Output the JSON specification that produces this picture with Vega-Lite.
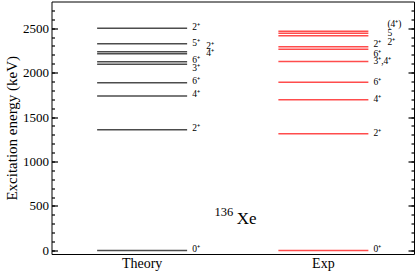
{
  "$schema": "https://vega.github.io/schema/vega-lite/v6.json",
  "width": 362.5,
  "height": 252.5,
  "autosize": {"type": "none"},
  "padding": {"left": 51.5, "top": 1.5, "right": 1, "bottom": 18},
  "background": "white",
  "config": {
    "view": {"stroke": "#000", "strokeWidth": 1},
    "font": "Liberation Serif",
    "axis": {"domain": false, "grid": false, "labelFont": "Liberation Serif", "titleFont": "Liberation Serif", "labelColor": "#000", "titleColor": "#000"},
    "axisY": {"ticks": true, "tickColor": "#000", "tickWidth": 1.2, "tickOpacity": 1},
    "axisX": {"ticks": false, "labelFontSize": 14, "labelPadding": 2, "labelAngle": 0, "title": null},
    "text": {"font": "Liberation Serif", "color": "#000"}
  },
  "datasets": {
    "levels": [
      {"group": "Theory", "E": 0},
      {"group": "Theory", "E": 1357},
      {"group": "Theory", "E": 1738},
      {"group": "Theory", "E": 1887},
      {"group": "Theory", "E": 2093},
      {"group": "Theory", "E": 2122},
      {"group": "Theory", "E": 2212},
      {"group": "Theory", "E": 2234},
      {"group": "Theory", "E": 2324},
      {"group": "Theory", "E": 2500},
      {"group": "Exp", "E": 0},
      {"group": "Exp", "E": 1313},
      {"group": "Exp", "E": 1694},
      {"group": "Exp", "E": 1892},
      {"group": "Exp", "E": 2126},
      {"group": "Exp", "E": 2262},
      {"group": "Exp", "E": 2290},
      {"group": "Exp", "E": 2415},
      {"group": "Exp", "E": 2444},
      {"group": "Exp", "E": 2465}
    ],
    "labels": [
      {"group": "Theory", "col": 1, "E": 20, "label": "0⁺"},
      {"group": "Theory", "col": 1, "E": 1380, "label": "2⁺"},
      {"group": "Theory", "col": 1, "E": 1760, "label": "4⁺"},
      {"group": "Theory", "col": 1, "E": 1905, "label": "6⁺"},
      {"group": "Theory", "col": 1, "E": 2050, "label": "3⁺"},
      {"group": "Theory", "col": 1, "E": 2140, "label": "6⁺"},
      {"group": "Theory", "col": 1, "E": 2330, "label": "5⁺"},
      {"group": "Theory", "col": 1, "E": 2510, "label": "2⁺"},
      {"group": "Theory", "col": 2, "E": 2220, "label": "4⁺"},
      {"group": "Theory", "col": 2, "E": 2300, "label": "2⁺"},
      {"group": "Exp", "col": 1, "E": 20, "label": "0⁺"},
      {"group": "Exp", "col": 1, "E": 1323, "label": "2⁺"},
      {"group": "Exp", "col": 1, "E": 1704, "label": "4⁺"},
      {"group": "Exp", "col": 1, "E": 1895, "label": "6⁺"},
      {"group": "Exp", "col": 1, "E": 2130, "label": "3⁺,4⁺"},
      {"group": "Exp", "col": 1, "E": 2210, "label": "6⁺"},
      {"group": "Exp", "col": 1, "E": 2320, "label": "2⁺"},
      {"group": "Exp", "col": 2, "E": 2345, "label": "2⁺"},
      {"group": "Exp", "col": 2, "E": 2445, "label": "5"},
      {"group": "Exp", "col": 2, "E": 2545, "label": "(4⁺)"}
    ]
  },
  "layer": [
    {
      "data": {"name": "levels"},
      "mark": {"type": "tick", "thickness": 1.5, "size": 90},
      "encoding": {
        "x": {"field": "group", "type": "nominal", "sort": ["Theory", "Exp"], "scale": {"type": "band", "domain": ["Theory", "Exp"], "paddingInner": 0, "paddingOuter": 0}, "axis": {"title": null}},
        "y": {"field": "E", "type": "quantitative", "scale": {"domain": [-40, 2800], "nice": false, "zero": false},
          "axis": {"orient": "left", "values": [0, 500, 1000, 1500, 2000, 2500], "format": "d", "offset": -6, "tickSize": 6, "labelFontSize": 13, "labelPadding": 3, "title": "Excitation energy (keV)", "titleFontSize": 15, "titleFontWeight": "normal", "titlePadding": 3}},
        "color": {"field": "group", "type": "nominal", "scale": {"domain": ["Theory", "Exp"], "range": ["#000000", "#ff0000"]}, "legend": null}
      }
    },
    {
      "data": {"name": "labels"},
      "transform": [{"filter": "datum.col == 1"}],
      "mark": {"type": "text", "align": "left", "baseline": "middle", "dx": 50, "fontSize": 9.5, "font": "Liberation Serif"},
      "encoding": {
        "x": {"field": "group", "type": "nominal", "sort": ["Theory", "Exp"], "axis": {"title": null}},
        "y": {"field": "E", "type": "quantitative", "scale": {"domain": [-40, 2800], "nice": false, "zero": false},
          "axis": {"orient": "right", "values": [0, 500, 1000, 1500, 2000, 2500], "offset": -6, "tickSize": 6, "labels": false, "title": null}},
        "text": {"field": "label"}
      }
    },
    {
      "data": {"name": "labels"},
      "transform": [{"filter": "datum.col == 2"}],
      "mark": {"type": "text", "align": "left", "baseline": "middle", "dx": 64, "fontSize": 9.5, "font": "Liberation Serif"},
      "encoding": {
        "x": {"field": "group", "type": "nominal", "sort": ["Theory", "Exp"], "axis": {"title": null}},
        "y": {"field": "E", "type": "quantitative", "scale": {"domain": [-40, 2800], "nice": false, "zero": false},
          "axis": {"orient": "left", "values": [0, 100, 200, 300, 400, 500, 600, 700, 800, 900, 1000, 1100, 1200, 1300, 1400, 1500, 1600, 1700, 1800, 1900, 2000, 2100, 2200, 2300, 2400, 2500, 2600, 2700], "offset": -3, "tickSize": 3, "labels": false, "title": null}},
        "text": {"field": "label"}
      }
    },
    {
      "data": {"values": [{"t": "Xe"}]},
      "mark": {"type": "text", "align": "left", "baseline": "alphabetic", "dx": 94.7, "fontSize": 17, "font": "Liberation Serif"},
      "encoding": {
        "x": {"datum": "Theory", "type": "nominal", "axis": {"title": null}},
        "y": {"datum": 296, "type": "quantitative", "scale": {"domain": [-40, 2800], "nice": false, "zero": false},
          "axis": {"orient": "right", "values": [0, 100, 200, 300, 400, 500, 600, 700, 800, 900, 1000, 1100, 1200, 1300, 1400, 1500, 1600, 1700, 1800, 1900, 2000, 2100, 2200, 2300, 2400, 2500, 2600, 2700], "offset": -3, "tickSize": 3, "labels": false, "title": null}},
        "text": {"field": "t"}
      }
    },
    {
      "data": {"values": [{"t": "136"}]},
      "mark": {"type": "text", "align": "right", "baseline": "alphabetic", "dx": 91, "fontSize": 12.5, "font": "Liberation Serif"},
      "encoding": {
        "x": {"datum": "Theory", "type": "nominal", "axis": {"title": null}},
        "y": {"datum": 393, "type": "quantitative", "scale": {"domain": [-40, 2800], "nice": false, "zero": false}, "axis": null},
        "text": {"field": "t"}
      }
    }
  ],
  "resolve": {"axis": {"y": "independent"}}
}
